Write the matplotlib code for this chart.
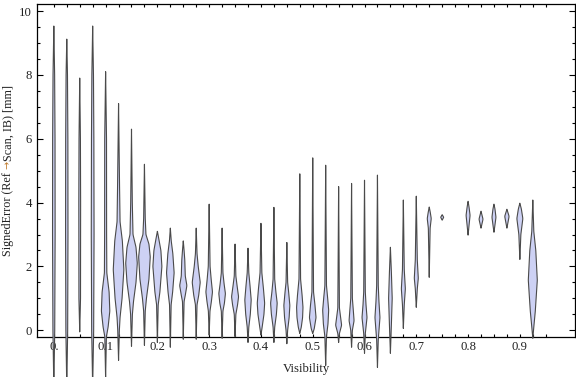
import numpy as np
import matplotlib
matplotlib.use("Agg")
import matplotlib.pyplot as plt
from matplotlib.ticker import FixedLocator

# ---- data ----
visibility = [0.0, 0.025, 0.05, 0.075, 0.1, 0.125, 0.15, 0.175, 0.2, 0.225,
              0.25, 0.275, 0.3, 0.325, 0.35, 0.375, 0.4, 0.425, 0.45, 0.475,
              0.5, 0.525, 0.55, 0.575, 0.6, 0.625, 0.65, 0.675, 0.7, 0.725,
              0.75, 0.8, 0.825, 0.85, 0.875, 0.9, 0.925]

# violin outlines: (signed error value, half-width in pixels)
profiles = [
    [(-1.8, 0), (0, 0.9), (3, 1.3), (6, 1.2), (8, 0.8), (9.53, 0)],
    [(-1.8, 0), (0, 0.9), (3, 1.2), (6, 1.1), (8, 0.7), (9.12, 0)],
    [(-0.05, 0), (1, 0.8), (4, 0.9), (6, 0.7), (7.9, 0)],
    [(-1.8, 0), (0, 1.0), (3, 1.4), (6, 1.2), (8, 0.8), (9.53, 0)],
    [(-1.5, 0), (-0.2, 0.8), (0.1, 2.5), (0.6, 4.2), (1.2, 3.5), (1.8, 1.2), (3, 1.0), (6, 0.9), (8.1, 0)],
    [(-0.94, 0), (0, 0.8), (0.4, 1.5), (1.0, 3.5), (1.9, 5.3), (2.8, 3.8), (3.4, 1.5), (4.5, 1.0), (7.1, 0)],
    [(-0.5, 0), (0.5, 0.9), (0.9, 2.0), (1.5, 4.5), (2.1, 5.8), (2.6, 4.5), (3.0, 1.5), (4.0, 0.8), (6.3, 0)],
    [(-0.47, 0), (0.6, 0.8), (1.0, 2.0), (1.6, 4.5), (2.3, 5.8), (2.7, 4.5), (3.0, 1.5), (3.5, 0.8), (5.2, 0)],
    [(-0.38, 0), (0.8, 0.8), (1.2, 2.5), (2.0, 4.5), (2.5, 3.5), (2.9, 1.2), (3.1, 0)],
    [(-0.53, 0), (0.8, 0.8), (1.2, 2.3), (1.8, 3.8), (2.4, 2.5), (2.8, 0.9), (3.2, 0)],
    [(-0.28, 0), (0.9, 0.8), (1.1, 2.0), (1.4, 3.6), (1.7, 2.0), (2.2, 1.5), (2.5, 0.8), (2.8, 0)],
    [(-0.28, 0), (0.8, 0.8), (1.1, 2.5), (1.5, 4.0), (2.0, 2.0), (2.4, 0.8), (3.2, 0)],
    [(-0.15, 0), (0.6, 0.8), (0.9, 2.2), (1.2, 3.3), (1.6, 2.0), (2.0, 0.9), (3.95, 0)],
    [(-0.25, 0), (0.6, 0.8), (0.85, 2.3), (1.15, 3.3), (1.45, 2.0), (1.8, 0.8), (3.2, 0)],
    [(-0.2, 0), (0.5, 0.8), (0.8, 2.5), (1.05, 3.5), (1.4, 2.0), (1.7, 0.8), (2.7, 0)],
    [(-0.38, 0), (0.1, 0.8), (0.5, 2.3), (0.95, 3.2), (1.4, 2.0), (1.8, 0.8), (2.57, 0)],
    [(-0.15, 0), (0.1, 1.2), (0.5, 3.0), (0.85, 3.7), (1.3, 2.5), (1.8, 0.9), (3.35, 0)],
    [(-0.38, 0), (0.1, 0.8), (0.5, 2.5), (0.85, 3.3), (1.2, 2.0), (1.6, 0.8), (3.85, 0)],
    [(-0.42, 0), (0.0, 0.8), (0.4, 2.3), (0.78, 3.0), (1.2, 1.8), (1.5, 0.8), (2.75, 0)],
    [(-0.1, 0), (0.1, 1.5), (0.4, 2.8), (0.72, 3.2), (1.1, 2.3), (1.6, 0.8), (4.9, 0)],
    [(-0.1, 0), (0.05, 1.5), (0.4, 3.3), (0.8, 2.2), (1.2, 0.8), (5.4, 0)],
    [(-1.1, 0), (-0.2, 0.8), (0.2, 2.3), (0.63, 3.0), (1.0, 2.0), (1.4, 0.8), (5.17, 0)],
    [(-0.38, 0), (-0.1, 0.8), (0.16, 3.0), (0.45, 1.8), (0.7, 0.8), (4.5, 0)],
    [(-0.53, 0), (0.0, 0.8), (0.3, 2.5), (0.6, 1.8), (1.0, 0.8), (4.6, 0)],
    [(-0.72, 0), (-0.1, 0.8), (0.4, 2.5), (0.8, 1.5), (1.2, 0.8), (4.7, 0)],
    [(-1.16, 0), (-0.3, 0.8), (0.4, 2.5), (0.9, 1.5), (1.4, 0.8), (4.86, 0)],
    [(-0.72, 0), (0.2, 1.0), (1.0, 1.8), (1.8, 1.0), (2.6, 0)],
    [(0.06, 0), (0.8, 0.9), (1.3, 2.0), (1.9, 0.9), (4.08, 0)],
    [(0.72, 0), (1.3, 1.0), (1.63, 2.0), (2.2, 1.0), (4.2, 0)],
    [(1.66, 0), (3.2, 0.9), (3.5, 2.0), (3.7, 1.0), (3.86, 0)],
    [(3.45, 0), (3.54, 1.5), (3.62, 0)],
    [(2.98, 0), (3.3, 1.0), (3.6, 2.0), (3.85, 1.0), (4.04, 0)],
    [(3.2, 0), (3.48, 2.0), (3.73, 0)],
    [(3.07, 0), (3.3, 1.0), (3.54, 2.0), (3.8, 1.0), (3.95, 0)],
    [(3.2, 0), (3.57, 2.2), (3.79, 0)],
    [(2.22, 0), (3.0, 1.0), (3.5, 3.0), (3.8, 1.5), (3.98, 0)],
    [(-0.25, 0), (0.1, 1.0), (0.6, 2.5), (1.57, 4.5), (2.5, 3.0), (3.1, 1.0), (4.08, 0)],
]

x_major = [0.0, 0.1, 0.2, 0.3, 0.4, 0.5, 0.6, 0.7, 0.8, 0.9]
x_labels = ["0.", "0.1", "0.2", "0.3", "0.4", "0.5", "0.6", "0.7", "0.8", "0.9"]
y_major = [0, 2, 4, 6, 8, 10]

# ---- styling ----
plt.rcParams['font.family'] = ['Liberation Serif', 'DejaVu Serif']
FILL = "#cdd1f4"
EDGE = "#4a4a4a"
PX = 1.0 / 518.0  # x-data units per pixel
FS = 9.2
FS_Y = 8.7


def smooth_outline(prof):
    """Round the corners of the knot outline slightly (drawing only)."""
    ys = np.array([p[0] for p in prof], float)
    ws = np.array([p[1] for p in prof], float)
    grid = np.linspace(ys[0], ys[-1], 600)
    w = np.interp(grid, ys, ws)
    span = ys[-1] - ys[0]
    win = max(3, int(600 * min(0.12, 0.6 * 0.12 / max(span, 0.12))))
    if win % 2 == 0:
        win += 1
    k = np.ones(win) / win
    wp = np.pad(w, win // 2, mode='constant')
    ws2 = np.convolve(wp, k, mode='valid')
    ws2[0] = 0
    ws2[-1] = 0
    return grid, ws2


fig = plt.figure(figsize=(5.76, 3.77), dpi=100)
ax = fig.add_axes([37 / 576, 40 / 377, 538 / 576, 333 / 377])
ax.set_xlim(-0.0325, 1.0065)
ax.set_ylim(-0.21, 10.22)

for xv, prof in zip(visibility, profiles):
    ys, ws = smooth_outline(prof)
    ws = ws * PX
    poly_x = np.concatenate([xv + ws, (xv - ws)[::-1]])
    poly_y = np.concatenate([ys, ys[::-1]])
    patches = ax.fill(poly_x, poly_y, facecolor=FILL, edgecolor=EDGE,
                      linewidth=0.8, joinstyle='round', zorder=3)
    for p in patches:
        p.set_clip_on(False)

ax.xaxis.set_major_locator(FixedLocator(x_major))
ax.xaxis.set_minor_locator(FixedLocator(np.arange(0, 0.951, 0.025)))
ax.set_xticklabels(x_labels)
ax.yaxis.set_major_locator(FixedLocator(y_major))
ax.yaxis.set_minor_locator(FixedLocator(np.arange(0, 10.01, 0.5)))
ax.tick_params(which='both', direction='in', top=True, right=True,
               width=0.8, colors='black', labelcolor='#222222', labelsize=FS)
ax.tick_params(which='major', length=4)
ax.tick_params(which='minor', length=2.5)
ax.tick_params(axis='x', which='major', length=2.5, pad=3)
for s in ax.spines.values():
    s.set_linewidth(0.9)

ax.set_xlabel("Visibility", fontsize=FS, color='#222222', labelpad=7)

# multi-coloured rotated y label
fig.canvas.draw()
renderer = fig.canvas.get_renderer()
parts = [("SignedError (Ref ", '#222222', ['Liberation Serif'], FS_Y),
         ("\u2192", '#c07a2a', ['DejaVu Sans'], FS_Y * 0.8),
         ("Scan, IB) [mm]", '#222222', ['Liberation Serif'], FS_Y)]
heights = []
for t, c, fam, fs in parts:
    tt = fig.text(0, 0, t, rotation=90, fontsize=fs, color=c, family=fam)
    heights.append(tt.get_window_extent(renderer).height)
    tt.remove()
total = sum(heights)
cy = 377 - 170.5
xpx = 8
ystart = cy - total / 2
for (t, c, fam, fs), h in zip(parts, heights):
    fig.text(xpx / 576, ystart / 377, t, rotation=90, fontsize=fs, color=c,
             family=fam, ha='center', va='bottom')
    ystart += h

fig.savefig("out.png", dpi=100)
